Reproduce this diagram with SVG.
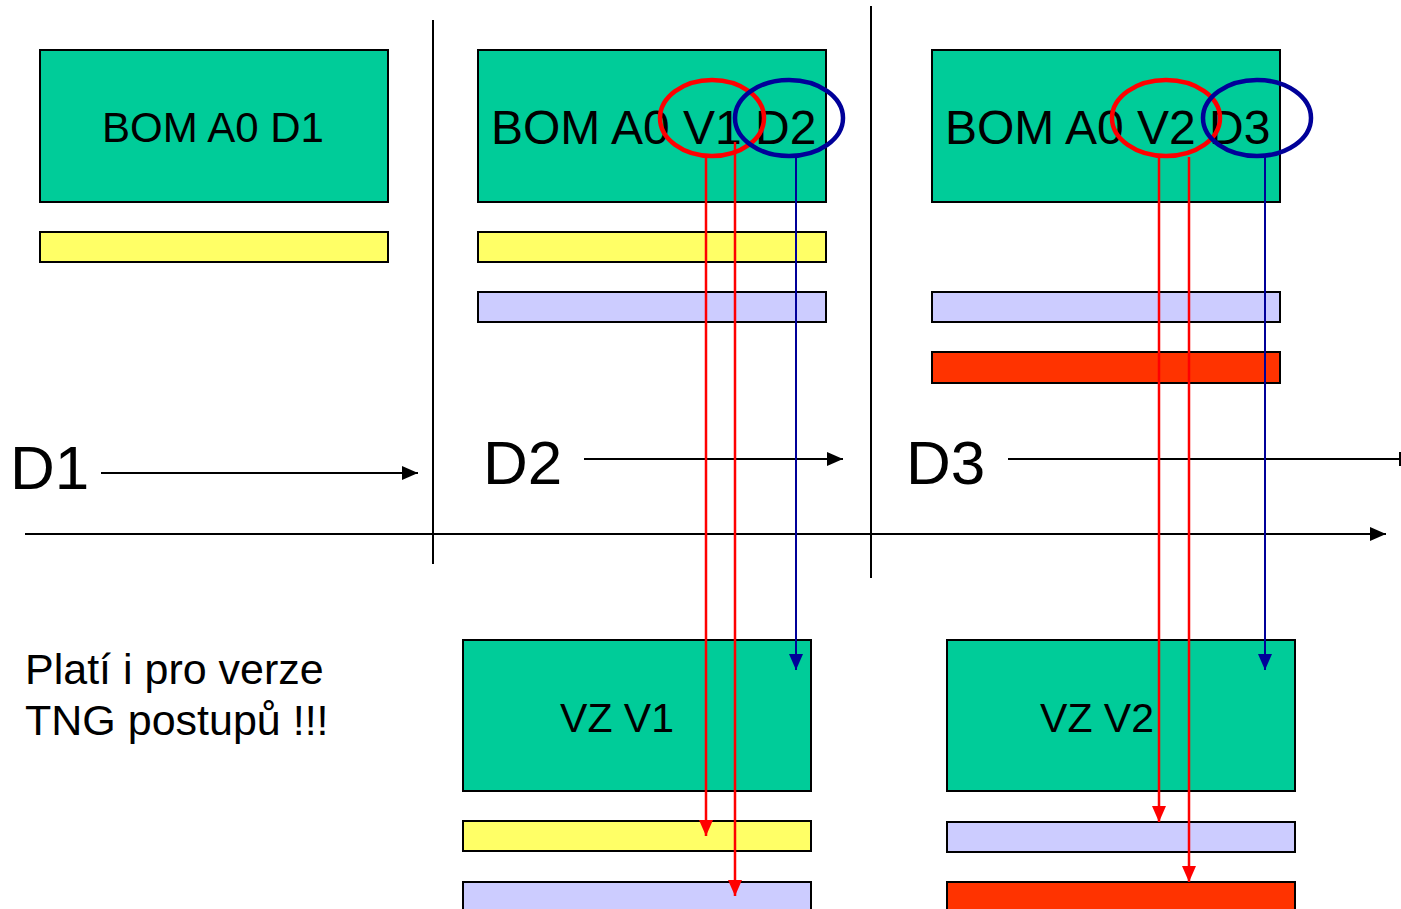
<svg xmlns="http://www.w3.org/2000/svg" width="1401" height="909" viewBox="0 0 1401 909">
<style>
text{font-family:"Liberation Sans",Arial,sans-serif;fill:#000}
.box{fill:#00CC99;stroke:#000;stroke-width:2}
.yel{fill:#FFFF66;stroke:#000;stroke-width:2}
.lav{fill:#CCCCFF;stroke:#000;stroke-width:2}
.red{fill:#FF3300;stroke:#000;stroke-width:2}
.blk{stroke:#000;stroke-width:2;fill:none}
.rl{stroke:#FF0000;stroke-width:2.5;fill:none}
.bl{stroke:#000099;stroke-width:2;fill:none}
.re{stroke:#FF0000;stroke-width:4.5;fill:none}
.be{stroke:#000099;stroke-width:4.5;fill:none}
</style>
<defs>
<marker id="ab" markerUnits="userSpaceOnUse" markerWidth="16" markerHeight="16" viewBox="0 0 16 16" refX="16" refY="8" orient="auto"><path d="M0,1 L16,8 L0,15 Z" fill="#000"/></marker>
<marker id="ar" markerUnits="userSpaceOnUse" markerWidth="16" markerHeight="16" viewBox="0 0 16 16" refX="16" refY="8" orient="auto"><path d="M0,1 L16,8 L0,15 Z" fill="#FF0000"/></marker>
<marker id="au" markerUnits="userSpaceOnUse" markerWidth="16" markerHeight="16" viewBox="0 0 16 16" refX="16" refY="8" orient="auto"><path d="M0,1 L16,8 L0,15 Z" fill="#000099"/></marker>
</defs>
<rect width="1401" height="909" fill="#fff"/>
<g id="bom-d1">
<rect class="box" x="40" y="50" width="348" height="152"/>
<text x="213" y="142" font-size="42" text-anchor="middle">BOM A0 D1</text>
</g>
<rect id="bar-d1-yellow" class="yel" x="40" y="232" width="348" height="30"/>
<g id="bom-v1-d2">
<rect class="box" x="478" y="50" width="348" height="152"/>
<text x="491" y="144" font-size="48">BOM A0 V1 D2</text>
</g>
<rect id="bar-d2-yellow" class="yel" x="478" y="232" width="348" height="30"/>
<rect id="bar-d2-lav" class="lav" x="478" y="292" width="348" height="30"/>
<g id="bom-v2-d3">
<rect class="box" x="932" y="50" width="348" height="152"/>
<text x="945" y="144" font-size="48">BOM A0 V2 D3</text>
</g>
<rect id="bar-d3-lav" class="lav" x="932" y="292" width="348" height="30"/>
<rect id="bar-d3-red" class="red" x="932" y="352" width="348" height="31"/>
<g id="vz-v1">
<rect class="box" x="463" y="640" width="348" height="151"/>
<text x="617" y="732" font-size="41" text-anchor="middle">VZ V1</text>
</g>
<rect id="bar-v1-yellow" class="yel" x="463" y="821" width="348" height="30"/>
<rect id="bar-v1-lav" class="lav" x="463" y="882" width="348" height="30"/>
<g id="vz-v2">
<rect class="box" x="947" y="640" width="348" height="151"/>
<text x="1097" y="732" font-size="41" text-anchor="middle">VZ V2</text>
</g>
<rect id="bar-v2-lav" class="lav" x="947" y="822" width="348" height="30"/>
<rect id="bar-v2-red" class="red" x="947" y="882" width="348" height="30"/>
<g id="labels">
<text x="10" y="489" font-size="62">D1</text>
<text x="483" y="484" font-size="62">D2</text>
<text x="906" y="484" font-size="62">D3</text>
<text x="25" y="684" font-size="43">Platí i pro verze</text>
<text x="25" y="735" font-size="43">TNG postupů !!!</text>
</g>
<g id="connectors">
<line class="blk" x1="433" y1="20" x2="433" y2="564"/>
<line class="blk" x1="871" y1="6" x2="871" y2="578"/>
<line class="blk" x1="25" y1="534" x2="1386" y2="534" marker-end="url(#ab)"/>
<line class="blk" x1="101" y1="473" x2="418" y2="473" marker-end="url(#ab)"/>
<line class="blk" x1="584" y1="459" x2="843" y2="459" marker-end="url(#ab)"/>
<line class="blk" x1="1008" y1="459" x2="1401" y2="459"/>
<line class="blk" x1="1400" y1="452" x2="1400" y2="466"/>
<ellipse class="re" cx="712" cy="118" rx="52" ry="38"/>
<ellipse class="be" cx="789" cy="118" rx="54" ry="38"/>
<ellipse class="re" cx="1166" cy="118" rx="54" ry="38"/>
<ellipse class="be" cx="1257" cy="118" rx="54" ry="38"/>
<line class="rl" x1="706" y1="157" x2="706" y2="836" marker-end="url(#ar)"/>
<line class="rl" x1="735" y1="142" x2="735" y2="896" marker-end="url(#ar)"/>
<line class="bl" x1="796" y1="157" x2="796" y2="670" marker-end="url(#au)"/>
<line class="rl" x1="1159" y1="157" x2="1159" y2="822" marker-end="url(#ar)"/>
<line class="rl" x1="1189" y1="157" x2="1189" y2="882" marker-end="url(#ar)"/>
<line class="bl" x1="1265" y1="157" x2="1265" y2="670" marker-end="url(#au)"/>
</g>
</svg>
